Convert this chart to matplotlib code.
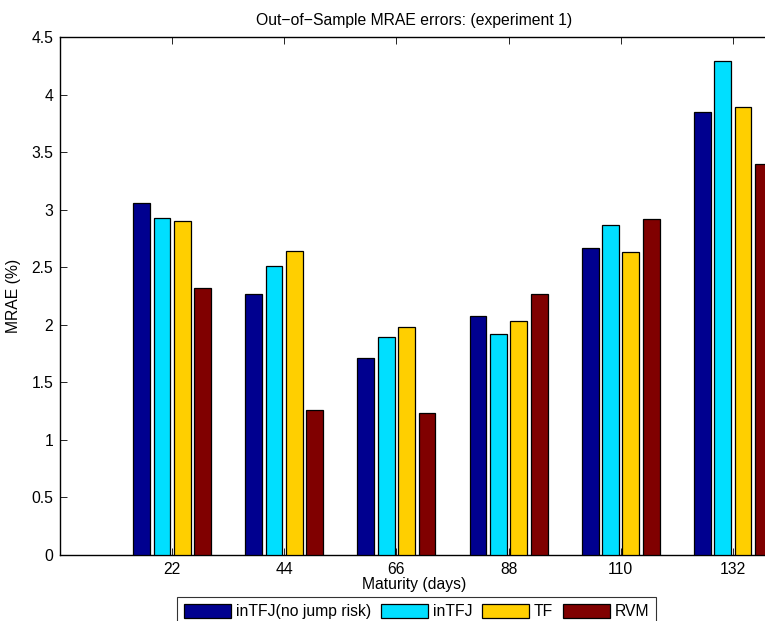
import matplotlib
matplotlib.use("Agg")
import numpy as np
import matplotlib.pyplot as plt

plt.rcParams['font.family'] = ['Liberation Sans', 'DejaVu Sans']

# maturities (days) and out-of-sample MRAE per model
maturity = [22, 44, 66, 88, 110, 132]
intfj_nojump = [3.06, 2.27, 1.71, 2.08, 2.67, 3.85]
intfj = [2.93, 2.51, 1.89, 1.92, 2.87, 4.29]
tf = [2.90, 2.64, 1.98, 2.03, 2.63, 3.89]
rvm = [2.32, 1.26, 1.23, 2.27, 2.92, 3.40]

series = [intfj_nojump, intfj, tf, rvm]
names = ['inTFJ(no jump risk)', 'inTFJ', 'TF', 'RVM']
colors = ['#00008F', '#00DFFF', '#FFCF00', '#800000']

fs = 11.3
W, H = 765, 621
fig = plt.figure(figsize=(W / 100, H / 100), dpi=100)
# axes box runs to the right edge of the figure
ax = fig.add_axes([60 / W, 1 - 555 / H, (768 - 60) / W, (555 - 37) / H])

x = np.array(maturity, dtype=float)
step = 4.0
for i, (vals, name, c) in enumerate(zip(series, names, colors)):
    ax.bar(x + (i - 1.5) * step, vals, width=3.3, color=c, edgecolor='black',
           linewidth=0.9, label=name, zorder=3)

ax.set_xlim(0, 138.9)
ax.set_ylim(0, 4.5)
ax.set_xticks(maturity)
ax.set_yticks(np.arange(0, 4.51, 0.5))
ax.set_yticklabels(['0', '0.5', '1', '1.5', '2', '2.5', '3', '3.5', '4', '4.5'])
ax.tick_params(direction='in', length=5, width=0.6, top=True, right=False,
               labelsize=fs, pad=5)
for s in ax.spines.values():
    s.set_linewidth(1.0)

ax.set_title('Out\u2212of\u2212Sample MRAE errors: (experiment 1)', fontsize=fs, pad=9)
ax.set_xlabel('Maturity (days)', fontsize=fs, labelpad=0)
ax.set_ylabel('MRAE (%)', fontsize=fs, labelpad=7)

leg = fig.legend(loc='upper left', bbox_to_anchor=(177 / W, 1 - 597 / H), ncol=4,
                 fontsize=fs, frameon=True, fancybox=False, handlelength=3.0,
                 handleheight=0.95, handletextpad=0.3, columnspacing=0.62,
                 borderpad=0.45, borderaxespad=0)
leg.get_frame().set_edgecolor('black')
leg.get_frame().set_linewidth(0.8)

fig.savefig('out.png', dpi=100)
